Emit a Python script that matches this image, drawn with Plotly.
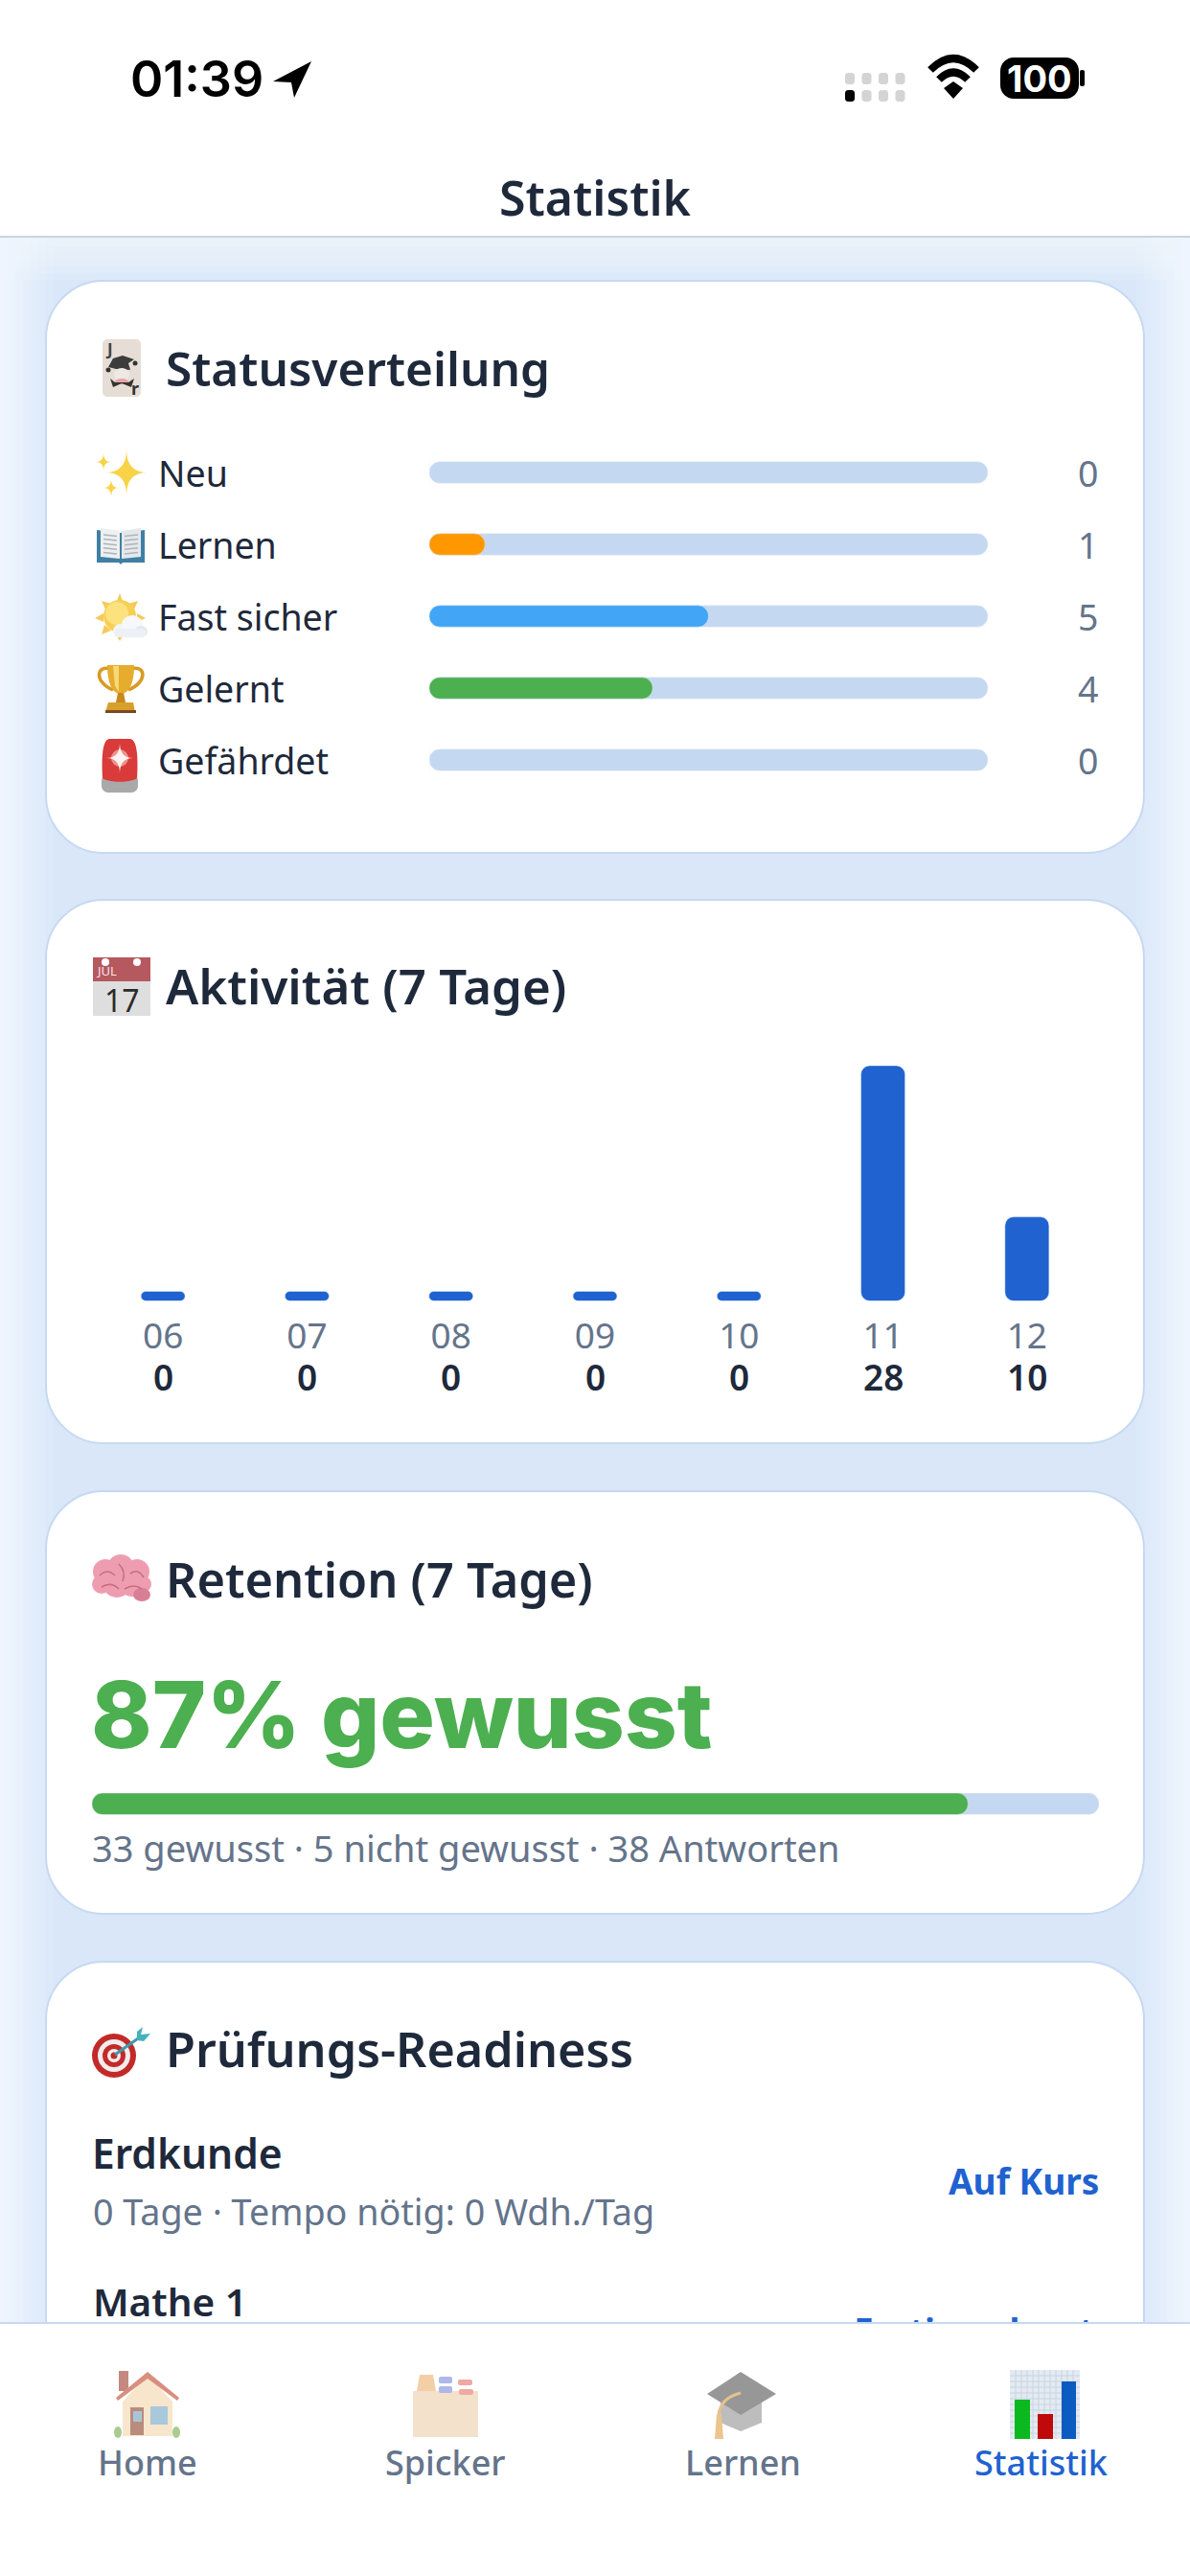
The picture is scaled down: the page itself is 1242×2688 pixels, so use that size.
# -*- coding: utf-8 -*-
"""
Statistik screen of the flashcard app (phone screenshot, 1242 x 2688)
- Status rows, activity bars and retention bar are real traces
- Everything else is page chrome drawn in pixel coordinates
"""

import plotly.graph_objects as go

# -----------------------------
# Data
# -----------------------------
status_names = ["Neu", "Lernen", "Fast sicher", "Gelernt", "Gefährdet"]
status_counts = [0, 1, 5, 4, 0]
status_colors = ["#C5D8F1", "#FF9800", "#42A5F5", "#4CAF50", "#EF5350"]

activity_days = ["06", "07", "08", "09", "10", "11", "12"]
activity_counts = [0, 0, 0, 0, 0, 28, 10]
MIN_BAR = 1.14  # the app keeps a small stub for empty days

known_answers = 33
unknown_answers = 5

tab_labels = ["Home", "Spicker", "Lernen", "Statistik"]

# -----------------------------
# Style
# -----------------------------
W, H = 1242, 2688
UI_FONT = "Noto Sans"
NAVY = "#1E293B"
SLATE = "#64748B"
BLUE = "#1F62D0"
GREEN = "#4CAF50"
TRACK = "#C5D8F1"
CARD_LINE = "#C6D9F1"
TAB_TOP = 2425
cards = [(293, 890), (939, 1506), (1556, 1997), (2047, 2600)]

shapes = []
notes = []


def dom_x(a, b):
    return [a / W, b / W]


def dom_y(top, bottom):
    return [1 - bottom / H, 1 - top / H]


def path(d, fill=None, line=None, lw=0, opacity=1, layer="below"):
    shapes.append(dict(
        type="path", xref="x", yref="y", path=d, fillcolor=fill or "rgba(0,0,0,0)",
        line=dict(color=line or "rgba(0,0,0,0)", width=lw), opacity=opacity, layer=layer,
    ))


def poly(points, fill, opacity=1, layer="below"):
    d = "M " + " L ".join(f"{x},{y}" for x, y in points) + " Z"
    path(d, fill, opacity=opacity, layer=layer)


def box(x0, y0, x1, y1, fill):
    poly([(x0, y0), (x1, y0), (x1, y1), (x0, y1)], fill)


def rrect(x0, y0, x1, y1, r, fill, line=None, lw=0, opacity=1, layer="below"):
    k = r * 0.45
    d = (f"M {x0 + r},{y0} L {x1 - r},{y0} C {x1 - k},{y0} {x1},{y0 + k} {x1},{y0 + r} "
         f"L {x1},{y1 - r} C {x1},{y1 - k} {x1 - k},{y1} {x1 - r},{y1} "
         f"L {x0 + r},{y1} C {x0 + k},{y1} {x0},{y1 - k} {x0},{y1 - r} "
         f"L {x0},{y0 + r} C {x0},{y0 + k} {x0 + k},{y0} {x0 + r},{y0} Z")
    path(d, fill, line, lw, opacity, layer)


def disc(cx, cy, rx, ry, fill, opacity=1, layer="below"):
    shapes.append(dict(
        type="circle", xref="x", yref="y", x0=cx - rx, x1=cx + rx, y0=cy - ry, y1=cy + ry,
        fillcolor=fill, line=dict(width=0), opacity=opacity, layer=layer,
    ))


def note(x, y, text, size, color=NAVY, weight=400, anchor="left", font=UI_FONT, xref="x", yref="y"):
    # annotations keep a few px of padding, take it back so edges line up
    shift = {"left": -3, "right": 3, "center": 0}[anchor]
    notes.append(dict(
        x=x, y=y, xref=xref, yref=yref, text=text, showarrow=False, xanchor=anchor, yanchor="middle",
        xshift=shift, font=dict(family=font, size=size, color=color, weight=weight),
    ))


# -----------------------------
# Emoji (no colour emoji font here, so small drawings)
# -----------------------------
def sparkle(cx, cy, rx, ry, fill="#F8D347"):
    path(f"M {cx},{cy - ry} Q {cx},{cy} {cx + rx},{cy} Q {cx},{cy} {cx},{cy + ry} "
         f"Q {cx},{cy} {cx - rx},{cy} Q {cx},{cy} {cx},{cy - ry} Z", fill)


def icon_joker():
    rrect(107, 354, 147, 414, 5, "#E6DED6")
    note(114, 364, "J", 17, "#444444", 700, "center")
    note(141, 405, "r", 18, "#333333", 700, "center")
    poly([(113, 383), (118, 374), (128, 371), (140, 375), (134, 379), (136, 386), (121, 385)], "#3C3C3C")
    disc(113, 386, 2.5, 2.5, "#333333")
    disc(141, 379, 2.5, 2.5, "#333333")
    disc(127, 391, 8, 7, "#F0E8E4")
    disc(127, 398, 7, 3, "#E6A5A8")
    poly([(115, 395), (120, 399), (134, 399), (140, 395), (137, 404), (127, 400), (118, 404)], "#333333")


def icon_book():
    poly([(101, 553), (126, 556), (151, 553), (151, 587), (128, 587), (126, 589), (124, 587), (101, 587)], "#3F7FA3")
    poly([(105, 551), (125, 554), (125, 583), (105, 581)], "#EDEFF0")
    poly([(127, 554), (147, 551), (147, 581), (127, 583)], "#E5E8EA")
    for i in range(5):
        y = 558 + i * 4.6
        path(f"M 108,{y} L 122,{y + 1.5}", line="#AEB4BA", lw=1.5)
        path(f"M 130,{y + 1.5} L 144,{y}", line="#AEB4BA", lw=1.5)


def icon_sun():
    poly([(125, 619), (121, 630), (129, 630)], "#F6C95C")
    poly([(106, 627), (110, 636), (116, 630)], "#F6C95C")
    poly([(144, 627), (134, 630), (140, 636)], "#F6C95C")
    poly([(99, 645), (108, 640), (108, 649)], "#F6C95C")
    poly([(152, 645), (143, 640), (143, 649)], "#F6C95C")
    poly([(106, 662), (109, 652), (116, 658)], "#F6C95C")
    poly([(125, 669), (120, 660), (130, 660)], "#F6C95C")
    disc(125, 643, 17, 17, "#F8CF52")
    disc(122, 640, 12, 12, "#FBE27E")
    disc(126, 658, 8, 7, "#F1F4F8")
    disc(138, 652, 11, 10, "#F6F8FB")
    disc(147, 659, 7, 6, "#E4E9EF")
    rrect(119, 656, 152, 665, 4, "#EDF1F5")


def icon_trophy():
    c = "#D99A22"
    path("M 116,698 C 100,693 98,712 118,720", line=c, lw=3.5)
    path("M 136,698 C 153,693 154,712 134,720", line=c, lw=3.5)
    path("M 112,694 L 140,694 C 140,715 134,722 128,724 L 124,724 C 118,722 112,715 112,694 Z", "#E6AC2E")
    poly([(118, 695), (124, 695), (124, 722), (120, 716)], "#F8D973")
    poly([(123, 723), (129, 723), (131, 733), (121, 733)], "#C9881A")
    poly([(113, 733), (139, 733), (141, 743), (110, 743)], "#D7A02C")
    poly([(110, 741), (142, 741), (142, 744), (110, 744)], "#7A4A1E")


def icon_siren():
    rrect(106, 808, 144, 827, 7, "#A9A9A9")
    path("M 107,812 C 106,795 106,772 114,771 L 136,771 C 144,772 144,795 143,812 "
         "C 136,817 114,817 107,812 Z", "#D93A3A")
    disc(125, 791, 9, 9, "#F0908C")
    sparkle(125, 791, 14, 16, "#FDF3F3")


def icon_calendar():
    poly([(97, 999), (157, 999), (157, 1024), (97, 1024)], "#B5595F")
    poly([(97, 1024), (157, 1024), (157, 1060), (97, 1060)], "#DEDEDE")
    disc(110, 1004, 4, 4, "#FFFFFF")
    disc(143, 1004, 4, 4, "#FFFFFF")
    note(111, 1013, "JUL", 13, "#F6E4E4", 400, "center")
    note(127, 1043, "17", 32, "#2A2A2A", 400, "center")


def icon_brain():
    for cx, cy, r in [(110, 1640, 13), (126, 1636, 14), (143, 1640, 13), (106, 1653, 10),
                      (122, 1652, 15), (138, 1652, 14), (150, 1653, 8)]:
        disc(cx, cy, r, r, "#EE9DB0")
    disc(148, 1664, 9, 7, "#D97F95")
    for d in ["M 104,1644 Q 112,1636 120,1644", "M 124,1632 Q 132,1640 128,1650",
              "M 136,1642 Q 144,1636 150,1646", "M 106,1656 Q 116,1650 124,1658",
              "M 130,1658 Q 140,1652 148,1658"]:
        path(d, line="#C96C84", lw=1.6)


def icon_target():
    disc(119, 2145, 23, 23, "#C22A2A")
    disc(119, 2145, 17, 17, "#F2ECEC")
    disc(119, 2145, 12, 12, "#C22A2A")
    disc(119, 2145, 7, 7, "#F2ECEC")
    disc(119, 2145, 3.5, 3.5, "#C22A2A")
    path("M 120,2144 L 147,2125", line="#3E9AA8", lw=3)
    poly([(143, 2120), (149, 2115), (147, 2123), (157, 2122), (150, 2130), (143, 2129)], "#47B0BF")


def icon_home():
    a = "above"
    poly([(124, 2474), (134, 2474), (134, 2495), (124, 2495)], "#BC7B71", 0.9, a)
    poly([(128, 2506), (154, 2478), (180, 2506), (180, 2542), (128, 2542)], "#F8E6CC", 1, a)
    poly([(121, 2502), (154, 2475), (187, 2502), (185, 2505), (154, 2482), (123, 2505)], "#D98E80", 1, a)
    poly([(136, 2512), (150, 2512), (150, 2541), (136, 2541)], "#B98C7E", 1, a)
    poly([(139, 2516), (148, 2516), (148, 2527), (139, 2527)], "#A8C5D8", 1, a)
    poly([(157, 2511), (175, 2511), (175, 2530), (157, 2530)], "#A8C8DC", 1, a)
    disc(123, 2538, 4, 6, "#A8CC90", 1, a)
    disc(184, 2538, 4, 6, "#A8CC90", 1, a)


def icon_box():
    a = "above"
    poly([(431, 2495), (499, 2495), (499, 2543), (431, 2543)], "#F3E1CB", 1, a)
    poly([(438, 2478), (452, 2478), (455, 2495), (435, 2495)], "#F4CFA6", 1, a)
    rrect(458, 2480, 472, 2487, 2, "#AEB7EA", layer=a)
    rrect(478, 2483, 493, 2489, 2, "#F0A9A0", layer=a)
    rrect(458, 2490, 472, 2497, 2, "#AEB7EA", layer=a)
    rrect(479, 2493, 494, 2499, 2, "#F0A9A0", layer=a)


def icon_cap():
    a = "above"
    poly([(752, 2505), (795, 2505), (795, 2528), (773, 2537), (752, 2528)], "#BDBDBD", 1, a)
    poly([(773, 2475), (810, 2498), (773, 2520), (738, 2498)], "#979797", 1, a)
    path("M 773,2497 Q 752,2502 750,2520", line="#E4C28D", lw=3, layer=a)
    poly([(748, 2519), (753, 2519), (755, 2545), (746, 2545)], "#EBC58D", 1, a)


def icon_stats():
    a = "above"
    poly([(1054, 2473), (1127, 2473), (1127, 2545), (1054, 2545)], "#E3EAF2", 1, a)
    for i in range(1, 12):
        path(f"M 1054,{2473 + i * 6} L 1127,{2473 + i * 6}", line="#C9D4E0", lw=1, layer=a)
        path(f"M {1054 + i * 6},2473 L {1054 + i * 6},2545", line="#C9D4E0", lw=1, layer=a)
    poly([(1059, 2504), (1075, 2504), (1075, 2545), (1059, 2545)], "#0BB81F", 1, a)
    poly([(1083, 2519), (1099, 2519), (1099, 2545), (1083, 2545)], "#BE0A0A", 1, a)
    poly([(1108, 2485), (1123, 2485), (1123, 2545), (1108, 2545)], "#0B5BC0", 1, a)


# -----------------------------
# Page background, cards, header
# -----------------------------
# soft glow of the cards: lighter towards the screen edges and under the header
box(0, 247, W, H, "#D9E7F8")
edge_strips = ["#EEF5FE", "#EBF3FD", "#E8F1FC", "#E5EFFB", "#E2EDFB", "#DFEBFA", "#DCE9F9"]
for i, color in enumerate(edge_strips):
    box(i * 8, 247, i * 8 + 8, H, color)
    box(W - i * 8 - 8, 247, W - i * 8, H, color)
for i in range(6):
    box(0, 247, W, 292 - i * 7, "rgba(240,246,254,0.16)")
for top, bottom in cards:
    rrect(48, top, 1194, bottom, 60, "#FFFFFF", CARD_LINE, 2)

box(0, 0, W, 246, "#FFFFFF")
path(f"M 0,247 L {W},247", line="#CBD3DD", lw=2)
note(621, 206, "Statistik", 50, NAVY, 600, "center")

# status bar
note(205, 82, "01:39", 52, "#000000", 600, "center", "Inter")
poly([(325, 64), (285, 85), (304, 86), (307, 102)], "#000000")
for col in range(4):
    for row in range(2):
        on = col == 0 and row == 1
        rrect(882 + col * 17.5, 76 + row * 18, 892 + col * 17.5, 88 + row * 18, 3,
              "#000000" if on else "#D4D4D4")
path("M 971,73 Q 995,49 1019,73", line="#000000", lw=8)
path("M 980,83 Q 995,68 1010,83", line="#000000", lw=8)
poly([(995, 103), (985, 92), (995, 85), (1005, 92)], "#000000")
rrect(1044, 60, 1126, 103, 14, "#000000")
rrect(1127, 73, 1132, 90, 2, "#000000")
note(1085, 82, "100", 38, "#FFFFFF", 700, "center", "Inter")

# -----------------------------
# Card titles and texts
# -----------------------------
note(174, 384, "Statusverteilung", 49.5, NAVY, 600)
note(174, 1028, "Aktivität (7 Tage)", 51, NAVY, 600)
note(174, 1647, "Retention (7 Tage)", 50.5, NAVY, 600)
note(174, 2137, "Prüfungs-Readiness", 50.3, NAVY, 600)
icon_joker()
icon_calendar()
icon_brain()
icon_target()

for name, count in zip(status_names, status_counts):
    note(166, name, name, 37.5, NAVY, yref="y2")
    note(1145, name, str(count), 37.5, SLATE, anchor="right", yref="y2")
sparkle(132, 493, 22, 24)
sparkle(108, 482, 8, 9)
sparkle(116, 509, 8, 9)
icon_book()
icon_sun()
icon_trophy()
icon_siren()

for i, count in enumerate(activity_counts):
    note(i, 1436, str(count), 37, NAVY, 600, "center", xref="x3")

answers_total = known_answers + unknown_answers
retention_pct = round(100 * known_answers / answers_total)
note(96, 1789, f"{retention_pct}% gewusst", 96, GREEN, 800, font="Inter")
note(97, 1928, f"{known_answers} gewusst · {unknown_answers} nicht gewusst · {answers_total} Antworten", 38, SLATE)

note(97, 2246, "Erdkunde", 42.5, NAVY, 600)
note(98, 2307, "0 Tage · Tempo nötig: 0 Wdh./Tag", 37.7, SLATE)
note(1146, 2275, "Auf Kurs", 37, BLUE, 700, "right")

# -----------------------------
# Tab bar
# -----------------------------
poly([(0, TAB_TOP), (W, TAB_TOP), (W, H), (0, H)], "#FFFFFF", layer="above")
path(f"M 0,{TAB_TOP - 1} L {W},{TAB_TOP - 1}", line="#C6D9F1", lw=2, layer="above")
icon_home()
icon_box()
icon_cap()
icon_stats()
for label, x in zip(tab_labels, [154, 465, 775, 1086]):
    note(x, 2569, label, 36, BLUE if label == "Statistik" else SLATE, 500, "center")

# -----------------------------
# Figure
# -----------------------------
fig = go.Figure()

# Rows that run under the tab bar, clipped by the "above" shapes
fig.add_trace(go.Scatter(
    x=[97], y=[2407], mode="text", text=["Mathe 1"], textposition="middle right",
    textfont=dict(family=UI_FONT, size=40.5, color=NAVY, weight=600), hoverinfo="skip",
))
fig.add_trace(go.Scatter(
    x=[1142], y=[2436], mode="text", text=["Fertig gelernt"], textposition="middle left",
    textfont=dict(family=UI_FONT, size=36.5, color=BLUE, weight=700), hoverinfo="skip",
))


def pill(cats, values, color, radius, xaxis, yaxis, width, horizontal=True):
    # with an explicit base plotly rounds both ends of the bar
    x, y = (values, cats) if horizontal else (cats, values)
    fig.add_trace(go.Bar(
        x=x, y=y, base=[0] * len(values), orientation="h" if horizontal else "v", width=width,
        marker=dict(color=color, cornerradius=radius), xaxis=xaxis, yaxis=yaxis, hoverinfo="skip",
    ))


# Status rows
status_total = sum(status_counts)
pill(status_names, [status_total] * len(status_names), TRACK, 11, "x2", "y2", 0.3)
pill(status_names, status_counts, status_colors, 11, "x2", "y2", 0.3)

# Activity
pill(activity_days, [max(v, MIN_BAR) for v in activity_counts], BLUE, 9, "x3", "y3", 0.306, horizontal=False)

# Retention
pill(["Retention"], [100], TRACK, 11, "x4", "y4", 1)
pill(["Retention"], [retention_pct], GREEN, 11, "x4", "y4", 1)

hidden = dict(visible=False, fixedrange=True)
fig.update_layout(
    width=W,
    height=H,
    margin=dict(l=0, r=0, t=0, b=0),
    paper_bgcolor="#EDF5FE",
    plot_bgcolor="rgba(0,0,0,0)",
    showlegend=False,
    barmode="overlay",
    shapes=shapes,
    annotations=notes,
    xaxis=dict(range=[0, W], domain=[0, 1], **hidden),
    yaxis=dict(range=[H, 0], domain=[0, 1], **hidden),
    xaxis2=dict(range=[0, status_total], domain=dom_x(448, 1031), anchor="y2", **hidden),
    yaxis2=dict(type="category", categoryorder="array", categoryarray=status_names, range=[4.5, -0.5],
                domain=dom_y(455.5, 830.5), anchor="x2", **hidden),
    xaxis3=dict(type="category", range=[-0.5, 6.5], domain=dom_x(95, 1147), anchor="y3", fixedrange=True,
                showgrid=False, zeroline=False, showline=False, ticks="", ticklabelstandoff=11,
                tickfont=dict(family=UI_FONT, size=37, color=SLATE)),
    yaxis3=dict(range=[0, max(activity_counts)], domain=dom_y(1112, 1357.5), anchor="x3", **hidden),
    xaxis4=dict(range=[0, 100], domain=dom_x(96, 1147), anchor="y4", **hidden),
    yaxis4=dict(type="category", range=[-0.5, 0.5], domain=dom_y(1871, 1893.5), anchor="x4", **hidden),
)

fig.write_html("out.html", config={"displayModeBar": False},
               post_script="document.body.style.margin='0';")
